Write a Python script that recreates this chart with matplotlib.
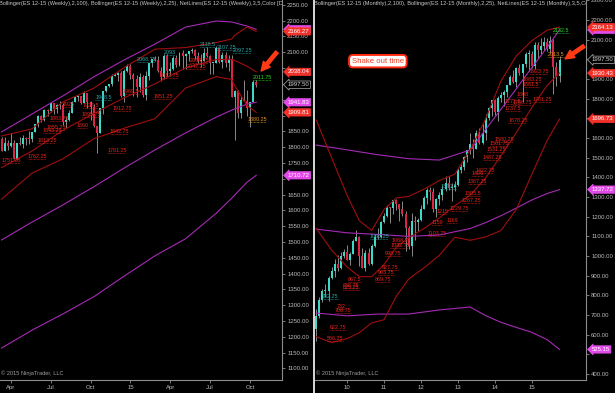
import matplotlib
matplotlib.use("Agg")
import matplotlib.pyplot as plt
from matplotlib.lines import Line2D
from matplotlib.transforms import blended_transform_factory

plt.rcParams["font.family"] = ["Liberation Sans", "DejaVu Sans"]

# colours
UP = "#3ed8c8"
DOWN = "#dc2448"
WICK = "#a0a0a0"
BB100 = "#a62ab6"
BB25 = "#a00e0e"
NET_RED = "#e8261c"
NET_TEAL = "#2aa6a6"
NET_GREEN = "#22e022"
NET_ORANGE = "#e89420"
AXIS = "#8c8c8c"
LABEL = "#bcbcbc"
TAG_RED = "#f2322a"
TAG_MAG = "#e24ae8"

# ---- weekly ES 12-15, week of 10 Mar 2014 .. week of 12 Oct 2015
wk_first_open = 1826
wk_close = [1789, 1814, 1805, 1813, 1763, 1812, 1811, 1829, 1826, 1825,
            1848, 1872, 1897, 1885, 1917, 1915, 1939, 1921, 1932, 1933,
            1879, 1885, 1909, 1942, 1957, 1961, 1939, 1970, 1942, 1927,
            1866, 1846, 1924, 1978, 1992, 1999, 2024, 2027, 2035, 1962,
            2040, 2058, 2028, 2014, 1989, 2021, 1965, 2025, 2067, 2080,
            2075, 2041, 2023, 2088, 2041, 2047, 2082, 2061, 2097, 2088,
            2096, 2103, 2106, 2087, 2072, 2074, 2098, 2089, 2065, 2066,
            2115, 2068, 2092, 2066, 2080, 1959, 1977, 1909, 1949, 1946,
            1923, 1943, 2007, 1997.5]
wk_high = [1831, 1831, 1823, 1845, 1821, 1813, 1832, 1839, 1833, 1850,
           1849, 1872, 1903, 1903, 1922, 1922, 1939, 1939, 1937, 1945,
           1938, 1896, 1918, 1946, 1960, 1965, 1962, 1979, 1970, 1945,
           1937, 1866, 1925, 1978, 1994, 2001, 2031, 2035, 2039, 2040,
           2047, 2064, 2063, 2034, 2027, 2035, 2027, 2042, 2067, 2080,
           2089, 2087, 2053, 2094, 2094, 2069, 2087, 2091, 2100, 2106,
           2097, 2104, 2115, 2112, 2101, 2095, 2114, 2118, 2092, 2066,
           2120, 2116, 2102, 2100, 2091, 2091, 1980, 1981, 1963, 2013,
           1982, 1944, 2012, 2013]
wk_low = [1787, 1788, 1790, 1800, 1762, 1760, 1807, 1798, 1807, 1810,
          1816, 1848, 1863, 1878, 1884, 1898, 1912, 1906, 1909, 1919,
          1870, 1859, 1882, 1907, 1942, 1946, 1937, 1938, 1925, 1886,
          1865, 1781, 1846, 1904, 1974, 1990, 1994, 2024, 2009, 1958,
          1942, 2039, 2016, 1962, 1958, 1974, 1959, 1950, 2011, 2055,
          2073, 2037, 2009, 2015, 2026, 2025, 2044, 2053, 2058, 2047,
          2047, 2073, 2097, 2079, 2065, 2052, 2073, 2085, 2032, 2032,
          2066, 2065, 2051, 2055, 2040, 1958, 1823, 1891, 1891, 1945,
          1900, 1864, 1942, 1990]
wk_tick_idx = [3, 16, 29, 42, 55, 68, 81]
wk_tick_lab = ["Apr", "Jul", "Oct", "15", "Apr", "Jul", "Oct"]

# bollinger readings (bar index, value)
wk_bb25_idx = [0, 10, 20, 30, 40, 50, 60, 70, 75, 76, 80, 83]
wk_bb25_up = [1835, 1858, 1943, 1986, 2052, 2110, 2115, 2131, 2142, 2154, 2180, 2166.27]
wk_bb25_mid = [1735, 1788, 1853, 1906, 1956, 2000, 2051, 2077, 2078, 2074, 2056, 2038.04]
wk_bb25_low = [1635, 1718, 1763, 1826, 1860, 1890, 1987, 2023, 2014, 1994, 1932, 1909.81]
wk_bb100_idx = [0, 10, 20, 30, 40, 50, 60, 70, 75, 80, 83]
wk_bb100_up = [1848, 1905, 1962, 2022, 2076, 2126, 2180, 2199, 2196, 2183, 2172.94]
wk_bb100_mid = [1506, 1563, 1617, 1674, 1734, 1791, 1845, 1895, 1917, 1936, 1941.83]
wk_bb100_low = [1164, 1221, 1272, 1326, 1392, 1456, 1510, 1591, 1638, 1689, 1710.72]

# netline labels (text is the level, idx = bar where label starts)
wk_net_red = ["1751.25", "1762.25", "1813.25", "1843.25", "1855.25", "1883.75", "1926",
              "1860", "1895.75", "1924.5", "1781.25", "1842.75", "1912.75", "1969.5",
              "1951.25", "2017.75", "2047.25", "2064.75"]
wk_net_red_idx = [0, 8.6, 11.6, 13.5, 14.8, 15.8, 20, 24.6, 26.2, 26.5, 34.4, 35.3,
                  36.3, 39.6, 49.4, 51.6, 60.4, 61.4]
wk_net_teal = ["1948.5", "2068.75", "2093", "2116.5", "2107.25", "2097.25"]
wk_net_teal_idx = [30.5, 44, 53, 64.7, 70.2, 75.4]
wk_net_green = ["2011.75"]
wk_net_green_idx = [81.9]
wk_net_orange = ["1880.25"]
wk_net_orange_idx = [80.3]

# ---- monthly ES 12-15, Mar 2009 .. Oct 2015
mo_first_open = 629
mo_close = [697, 774, 820, 821, 890, 924, 960, 941, 1001, 1020,
            982, 1012, 1077, 1097, 999, 941, 1014, 961, 1053, 1098,
            1096, 1173, 1203, 1244, 1243, 1284, 1265, 1241, 1214, 1141,
            1053, 1178, 1172, 1183, 1239, 1293, 1335, 1328, 1240, 1292,
            1311, 1339, 1373, 1347, 1351, 1361, 1435, 1452, 1506, 1538,
            1571, 1546, 1628, 1575, 1624, 1702, 1751, 1793, 1730, 1806,
            1820, 1832, 1872, 1912, 1885, 1957, 1929, 1978, 2028, 2029,
            1965, 2074, 2048, 2066, 2087, 2051, 2092, 1960, 1913, 1997.5]
mo_high = [732, 790, 831, 857, 900, 942, 983, 1006, 1019, 1035,
           1058, 1020, 1088, 1130, 1100, 1041, 1033, 1041, 1061, 1111,
           1142, 1178, 1220, 1261, 1249, 1285, 1291, 1265, 1278, 1229,
           1151, 1218, 1203, 1194, 1260, 1305, 1346, 1352, 1345, 1293,
           1324, 1359, 1407, 1406, 1369, 1383, 1447, 1468, 1507, 1540,
           1627, 1594, 1641, 1652, 1672, 1720, 1759, 1794, 1798, 1815,
           1832, 1845, 1872, 1920, 1945, 1959, 1976, 1978, 2036, 2050,
           2042, 2090, 2087, 2106, 2115, 2110, 2121, 2101, 1984, 2015]
mo_low = [566, 684, 767, 790, 772, 881, 895, 925, 934, 991,
          980, 952, 1009, 1075, 951, 938, 923, 952, 953, 1047,
          1088, 1094, 1170, 1200, 1166, 1215, 1232, 1178, 1205, 1024,
          1036, 1000, 1084, 1127, 1180, 1239, 1267, 1287, 1222, 1197,
          1257, 1287, 1329, 1338, 1278, 1333, 1358, 1422, 1438, 1476,
          1521, 1500, 1543, 1569, 1572, 1591, 1691, 1713, 1717, 1685,
          1782, 1762, 1808, 1868, 1880, 1859, 1921, 1781, 1961, 1942,
          1958, 1951, 2009, 2028, 2048, 2044, 2032, 1823, 1864, 1886]
mo_tick_idx = [10, 22, 34, 46, 58, 70]
mo_tick_lab = ["10", "11", "12", "13", "14", "15"]

mo_bb25_idx = [0, 5, 10, 14, 18, 22, 26, 30, 35, 40, 45, 50, 55, 60, 65, 70, 75, 79]
mo_bb25_up = [1692, 1500, 1310, 1180, 1130, 1236, 1295, 1303, 1340, 1384, 1416, 1540,
              1697, 1890, 2018, 2095, 2148, 2164.13]
mo_bb25_mid = [1141, 1030, 945, 895, 895, 956, 1045, 1093, 1140, 1194, 1256, 1310,
               1397, 1510, 1628, 1755, 1868, 1930.43]
mo_bb25_low = [590, 560, 580, 610, 660, 676, 795, 883, 940, 1004, 1096, 1080,
               1097, 1130, 1238, 1415, 1588, 1696.73]
mo_bb100_idx = [0, 10, 20, 30, 40, 50, 55, 60, 65, 70, 75, 79]
mo_bb100_up = [1564, 1540, 1515, 1495, 1488, 1539, 1643, 1747, 1851, 1958, 2061, 2150.29]
mo_bb100_mid = [1137, 1118, 1110, 1100, 1107, 1140, 1170, 1205, 1244, 1285, 1318, 1337.72]
mo_bb100_low = [710, 696, 705, 705, 726, 741, 697, 663, 637, 612, 575, 525.15]

mo_net_red = ["1923.75", "1883.25", "1861.5", "1808", "1781.25", "1772.5", "1766.75",
              "1737.5", "1678.25", "1580.25", "1561.75", "1531.25", "1487.25", "1422.75",
              "1406", "1367.25", "1305.5", "1267.25", "1229.75", "1215", "1159", "1169",
              "1103.75", "1068.5", "1042.75", "998.75", "927.75", "903.75", "869.75",
              "867.5", "838.75", "825.25", "732", "708.75", "622.75", "566.25"]
mo_net_red_idx = [69.4, 67.1, 67.1, 65.2, 70.4, 61.3, 63.9, 61.3, 62.3, 58, 56.4, 55.4,
                  54.1, 51.6, 50.6, 49.3, 48.3, 47.3, 43.4, 39.2, 37.6, 42.4, 36.3, 24.6,
                  24, 22.3, 21.4, 20, 19, 10.3, 8.7, 8.7, 6.8, 6.1, 4.5, 3.5]
mo_net_teal = ["782.25", "1086.25", "1340.5"]
mo_net_teal_idx = [1.9, 17.4, 40.3]
mo_net_green = ["2132.5"]
mo_net_green_idx = [76.9]
mo_net_orange = ["2013.5"]
mo_net_orange_idx = [75.3]


def candles(ax, first_open, closes, highs, lows, width, min_body):
    opens = [first_open] + closes[:-1]
    x = list(range(len(closes)))
    bottoms = [min(o, c) for o, c in zip(opens, closes)]
    heights = [max(abs(c - o), min_body) for o, c in zip(opens, closes)]
    colors = [UP if c >= o else DOWN for o, c in zip(opens, closes)]
    ax.vlines(x, lows, highs, color=WICK, lw=0.6, zorder=3)
    ax.bar(x, heights, width, bottom=bottoms, color=colors, linewidth=0, zorder=4)


def bands(ax, idx, up, mid, low, color):
    for vals in (up, mid, low):
        ax.plot(idx, vals, color=color, lw=0.8, zorder=5)


def netlines(ax, texts, idx, color):
    for t, i in zip(texts, idx):
        level = float(t)
        ax.text(i, level, t, fontsize=3.9, color=color, ha="left", va="bottom",
                zorder=6, clip_on=True)
        ax.plot([i, i + 0.85 * len(t)], [level, level], color=color, lw=0.5,
                ls=(0, (1, 1)), zorder=6)


def tag(ax, value, fc, ec=None, tc="white"):
    tr = blended_transform_factory(ax.transAxes, ax.transData)
    ax.annotate(f"{value:.2f}", xy=(1, value), xycoords=tr, xytext=(4, 0),
                textcoords="offset points", ha="left", va="center", fontsize=4.3,
                color=tc, zorder=10, annotation_clip=False,
                bbox=dict(boxstyle="larrow,pad=0.2", fc=fc, ec=ec or fc, lw=0.5))


def style(ax, xlim, ylim, yticks, tag_values, xticks, xlabels, title):
    ax.set_facecolor("black")
    ax.set_xlim(*xlim)
    ax.set_ylim(*ylim)
    for s in ("top", "left"):
        ax.spines[s].set_visible(False)
    for s in ("right", "bottom"):
        ax.spines[s].set_color(AXIS)
        ax.spines[s].set_linewidth(0.8)
    ax.yaxis.tick_right()
    ax.set_yticks(yticks)
    # price tags sit on top of the axis labels they cover
    step = yticks[1] - yticks[0]
    labels = []
    for v in yticks:
        hidden = any(abs(v - t) < 0.26 * step for t in tag_values)
        labels.append("" if hidden else f"{v:.2f}")
    ax.set_yticklabels(labels)
    ax.set_xticks(xticks)
    ax.set_xticklabels(xlabels)
    ax.tick_params(colors=AXIS, labelcolor=LABEL, labelsize=4.3, length=2.5,
                   width=0.6, pad=1.2)
    ax.text(-0.004, 0.997, title, transform=ax.transAxes, ha="left", va="top",
            fontsize=4.1, color="#c8c8c8", clip_on=True, zorder=8)
    ax.text(0.005, 0.01, "\u00a9 2015 NinjaTrader, LLC", transform=ax.transAxes,
            ha="left", va="bottom", fontsize=4.1, color="#a0a0a0", zorder=8)


fig = plt.figure(figsize=(6.15, 3.93), dpi=100, facecolor="black")
axw = fig.add_axes([0, 13 / 393, 282 / 615, 380 / 393])
axm = fig.add_axes([315 / 615, 13 / 393, 271 / 615, 380 / 393])

# weekly panel
wk_tags = [(wk_bb100_up[-1], TAG_MAG), (wk_bb25_up[-1], TAG_RED),
           (wk_bb25_mid[-1], TAG_RED), (wk_bb100_mid[-1], TAG_MAG),
           (wk_bb25_low[-1], TAG_RED), (wk_bb100_low[-1], TAG_MAG)]
bands(axw, wk_bb100_idx, wk_bb100_up, wk_bb100_mid, wk_bb100_low, BB100)
bands(axw, wk_bb25_idx, wk_bb25_up, wk_bb25_mid, wk_bb25_low, BB25)
candles(axw, wk_first_open, wk_close, wk_high, wk_low, 0.65, 3)
netlines(axw, wk_net_red, wk_net_red_idx, NET_RED)
netlines(axw, wk_net_teal, wk_net_teal_idx, NET_TEAL)
netlines(axw, wk_net_green, wk_net_green_idx, NET_GREEN)
netlines(axw, wk_net_orange, wk_net_orange_idx, NET_ORANGE)
style(axw, (-0.49, 91.4), (1063, 2265.5), list(range(1100, 2251, 50)),
      [v for v, _ in wk_tags] + [wk_close[-1]], wk_tick_idx, wk_tick_lab,
      "Bollinger(ES 12-15 (Weekly),2,100), Bollinger(ES 12-15 (Weekly),2,25), "
      "NetLines(ES 12-15 (Weekly),3,5,Color [DarkRed],Color [Lime])")
for v, c in wk_tags:
    tag(axw, v, c)
tag(axw, wk_close[-1], "black", "#b0b0b0", "#d0d0d0")

# monthly panel
mo_tags = [(mo_bb100_up[-1], TAG_MAG), (mo_bb25_up[-1], TAG_RED),
           (mo_bb25_mid[-1], TAG_RED), (mo_bb25_low[-1], TAG_RED),
           (mo_bb100_mid[-1], TAG_MAG), (mo_bb100_low[-1], TAG_MAG)]
bands(axm, mo_bb100_idx, mo_bb100_up, mo_bb100_mid, mo_bb100_low, BB100)
bands(axm, mo_bb25_idx, mo_bb25_up, mo_bb25_mid, mo_bb25_low, BB25)
candles(axm, mo_first_open, mo_close, mo_high, mo_low, 0.65, 5)
netlines(axm, mo_net_red, mo_net_red_idx, NET_RED)
netlines(axm, mo_net_teal, mo_net_teal_idx, NET_TEAL)
netlines(axm, mo_net_green, mo_net_green_idx, NET_GREEN)
netlines(axm, mo_net_orange, mo_net_orange_idx, NET_ORANGE)
style(axm, (-0.39, 87.6), (369.8, 2301.7), list(range(400, 2301, 100)),
      [v for v, _ in mo_tags] + [mo_close[-1]], mo_tick_idx, mo_tick_lab,
      "Bollinger(ES 12-15 (Monthly),2,100), Bollinger(ES 12-15 (Monthly),2,25), "
      "NetLines(ES 12-15 (Monthly),3,5,Color [DarkRed],Color [Lime])")
for v, c in mo_tags:
    tag(axm, v, c)
tag(axm, mo_close[-1], "black", "#b0b0b0", "#d0d0d0")

axm.text(0.232, 0.839, "Shake out time", transform=axm.transAxes, ha="center",
         va="center", fontsize=5.6, color="#f03a1e", zorder=9,
         bbox=dict(boxstyle="round,pad=0.35,rounding_size=0.5", fc="white",
                   ec="#ff2a10", lw=1.4))

arrow = dict(arrowstyle="simple,head_length=0.8,head_width=0.8,tail_width=0.3",
             color="#ff3a14", mutation_scale=8, shrinkA=0, shrinkB=0)
axw.annotate("", xy=(0.926, 0.813), xycoords="axes fraction",
             xytext=(0.982, 0.863), arrowprops=arrow, zorder=9)
axm.annotate("", xy=(0.923, 0.845), xycoords="axes fraction",
             xytext=(0.993, 0.879), arrowprops=arrow, zorder=9)

# panel divider
fig.add_artist(Line2D([313.5 / 615] * 2, [0, 1], transform=fig.transFigure,
                      color="#d8d8d8", lw=1.4))

fig.savefig("out.png", dpi=100, facecolor="black")
